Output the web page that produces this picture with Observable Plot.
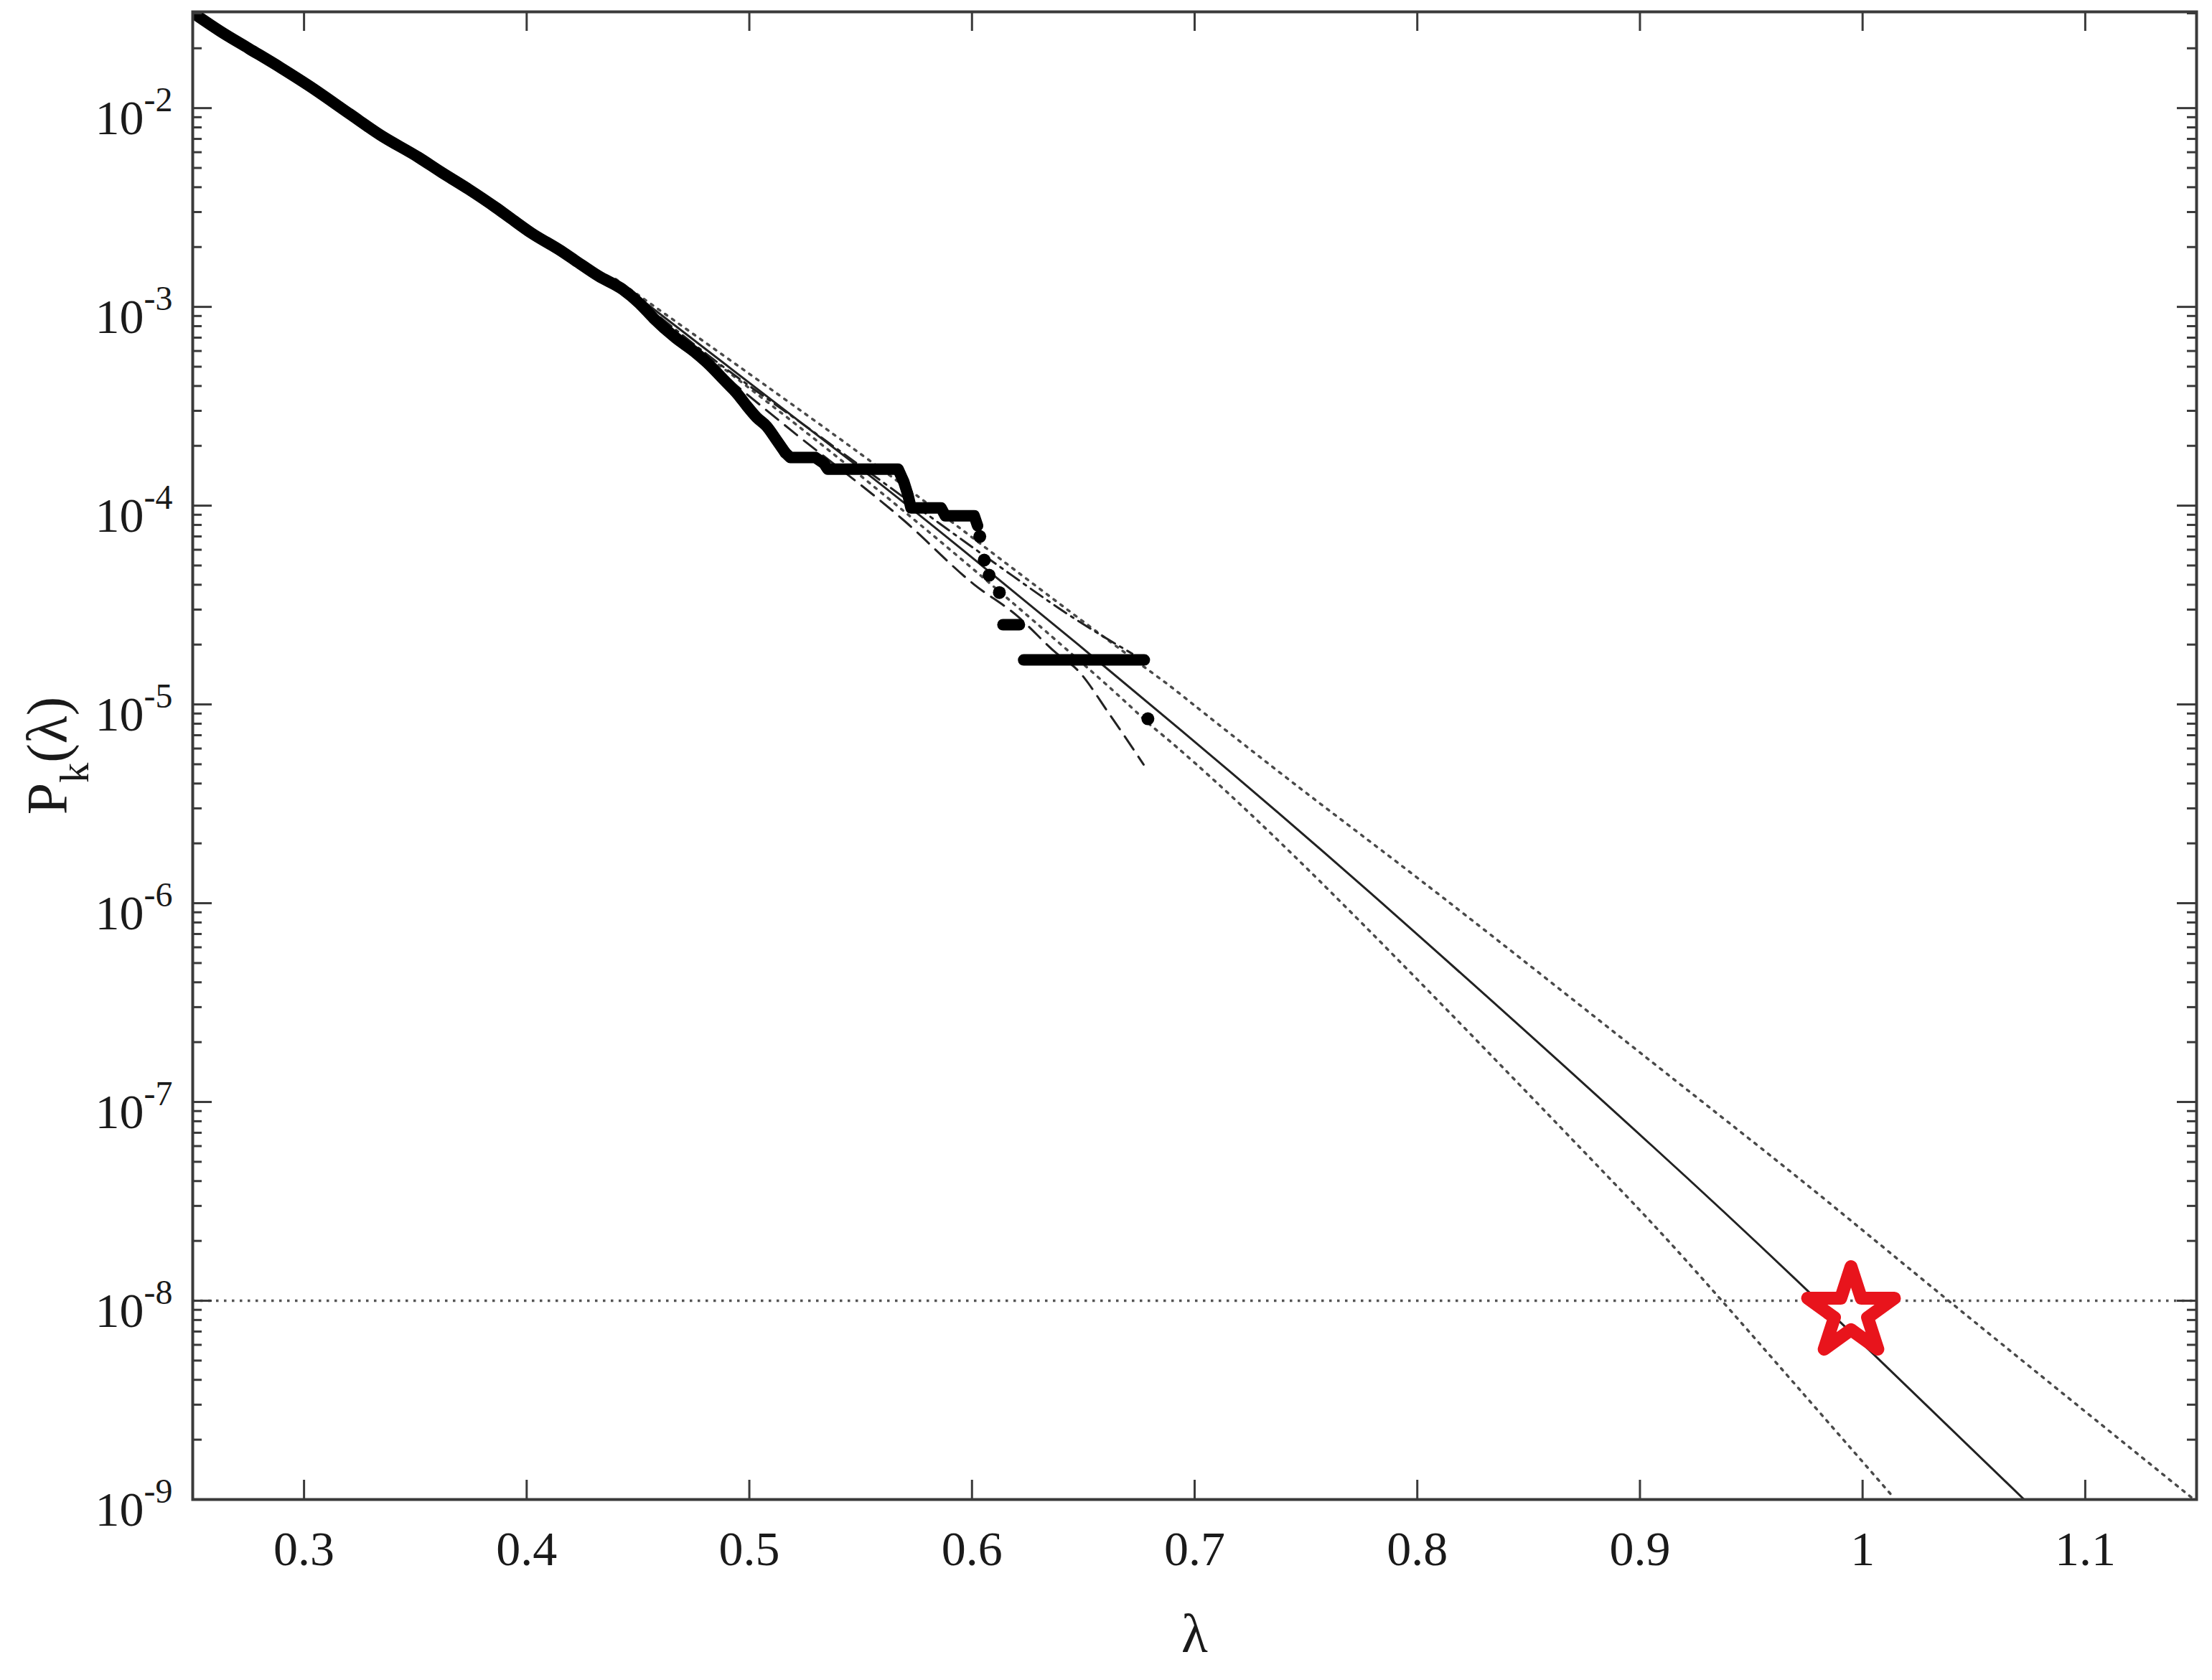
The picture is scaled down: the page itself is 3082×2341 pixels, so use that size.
<!DOCTYPE html>
<html>
<head>
<meta charset="utf-8">
<script src="https://cdn.jsdelivr.net/npm/d3@7"></script>
<script src="https://cdn.jsdelivr.net/npm/@observablehq/plot@0.6"></script>
<style>
  html, body { margin: 0; padding: 0; background: #ffffff; }
  #chart { width: 3082px; height: 2341px; }
</style>
</head>
<body>
<div id="chart"></div>
<script>
// ---------------- DATA (log10 of probability) ----------------
// Empirical exceedance probability: smooth upper part
const empSmoothX    = [0.250, 0.2626, 0.2752, 0.2897, 0.3023, 0.3206, 0.3342, 0.3516, 0.3613, 0.3739,
                       0.3861, 0.3923, 0.4023, 0.4145, 0.4216, 0.4323, 0.4432, 0.4506, 0.4571, 0.4668,
                       0.4755, 0.4819, 0.4884, 0.4948, 0.4990, 0.5032, 0.5077, 0.5119, 0.5161];
const empSmoothLogP = [-1.52, -1.615, -1.700, -1.798, -1.888, -2.030, -2.135, -2.249, -2.320, -2.408,
                       -2.500, -2.550, -2.630, -2.712, -2.765, -2.845, -2.913, -2.982, -3.058, -3.155,
                       -3.227, -3.290, -3.365, -3.440, -3.500, -3.555, -3.600, -3.665, -3.733];
// Empirical exceedance probability: stepped tail (segments separated where the picture has gaps)
const empStepX    = [0.5161, 0.5184, 0.5297, 0.5335, 0.5352, 0.5668, 0.5694, 0.5713, 0.5726, 0.5861,
                     0.5880, 0.6010, 0.6025,
                     0.6139, 0.6213,
                     0.6232, 0.6774];
const empStepLogP = [-3.733, -3.758, -3.758, -3.787, -3.816, -3.816, -3.881, -3.949, -4.011, -4.011,
                     -4.051, -4.051, -4.101,
                     -4.599, -4.599,
                     -4.776, -4.776];
const empStepSeg  = ["a", "a", "a", "a", "a", "a", "a", "a", "a", "a",
                     "a", "a", "a",
                     "b", "b",
                     "c", "c"];
// Isolated empirical points
const empDotX    = [0.6035, 0.6055, 0.6077, 0.6123, 0.6790];
const empDotLogP = [-4.155, -4.274, -4.350, -4.437, -5.072];

// Fitted model (solid)
const fitX    = [0.44, 0.5503, 0.6048, 0.6474, 0.6958, 0.7790, 0.9055, 0.9813, 1.0732];
const fitLogP = [-2.864, -3.816, -4.305, -4.696, -5.148, -5.949, -7.221, -8.014, -9.007];
// Upper confidence bound (dotted)
const upX    = [0.44, 0.55, 0.62, 0.6774, 0.6958, 0.7445, 0.8119, 0.9055, 0.9748, 1.0394, 1.1481];
const upLogP = [-2.86, -3.74, -4.33, -4.812, -4.968, -5.397, -5.975, -6.800, -7.415, -8.007, -8.993];
// Lower confidence bound (dotted)
const loX    = [0.44, 0.55, 0.6503, 0.6787, 0.6958, 0.7626, 0.8697, 0.9055, 0.9368, 1.0142];
const loLogP = [-2.90, -3.85, -4.80, -5.09, -5.252, -5.96, -7.19, -7.611, -8.00, -8.993];
// Alternative fit (dash-dot)
const altAX    = [0.44, 0.4839, 0.529, 0.5419, 0.559, 0.6097, 0.6474, 0.6720];
const altALogP = [-2.87, -3.264, -3.63, -3.735, -3.874, -4.285, -4.578, -4.745];
// Alternative fit (dashed)
const altBX    = [0.44, 0.518, 0.570, 0.601, 0.6197, 0.6381, 0.6474, 0.6616, 0.6771];
const altBLogP = [-2.89, -3.614, -4.08, -4.397, -4.549, -4.744, -4.827, -5.047, -5.303];

// Threshold and marked point
const thresholdP = [1e-8];
const starX = [0.9948];
const starLogP = [-8.058];

// Axes
const xTickValues = [0.3, 0.4, 0.5, 0.6, 0.7, 0.8, 0.9, 1.0, 1.1];
const xTickLabels = ["0.3", "0.4", "0.5", "0.6", "0.7", "0.8", "0.9", "1", "1.1"];
const yTickValues = [1e-9, 1e-8, 1e-7, 1e-6, 1e-5, 1e-4, 1e-3, 1e-2];
const yTickLabels = ["10^-9", "10^-8", "10^-7", "10^-6", "10^-5", "10^-4", "10^-3", "10^-2"];
const yMinorMantissas = [2, 3, 4, 5, 6, 7, 8, 9];
const xLabel = "λ";
const yLabel = "P_k(λ)";

// ---------------- BUILD ----------------
const W = 3082, H = 2341;
const mL = 268, mR = 22, mT = 16, mB = 252;
const fw = W - mL - mR, fh = H - mT - mB;
const yTop = 0.0305;

const rows = (xs, ls, extra) => xs.map((x, i) => ({x, p: Math.pow(10, ls[i]), seg: extra ? extra[i] : "s"}));
const empSmooth = rows(empSmoothX, empSmoothLogP);
const empStep = rows(empStepX, empStepLogP, empStepSeg);
const empDots = rows(empDotX, empDotLogP);
const fit = rows(fitX, fitLogP);
const up = rows(upX, upLogP);
const lo = rows(loX, loLogP);
const altA = rows(altAX, altALogP);
const altB = rows(altBX, altBLogP);
const star = rows(starX, starLogP);
const yMinor = yTickValues.flatMap(d => yMinorMantissas.map(m => m * d)).filter(v => v < yTop);

const axisColor = "#3a3a3a";
const textColor = "#1a1a1a";
const font = "'Liberation Serif', 'Times New Roman', serif";
const dataStroke = {stroke: "#000", strokeWidth: 16, strokeLinecap: "round", strokeLinejoin: "round", clip: true};

const plot = Plot.plot({
  width: W, height: H,
  marginLeft: mL, marginRight: mR, marginTop: mT, marginBottom: mB,
  x: {type: "linear", domain: [0.25, 1.15], axis: null},
  y: {type: "log", domain: [1e-9, yTop], axis: null},
  style: {fontFamily: font, background: "#ffffff", color: textColor, overflow: "visible"},
  marks: [
    // threshold line
    Plot.ruleY(thresholdP, {y: d => d, stroke: "#555", strokeWidth: 3.5, strokeDasharray: "3.5,7.5"}),
    // confidence bounds
    Plot.line(up, {x: "x", y: "p", stroke: "#4a4a4a", strokeWidth: 3.5, strokeDasharray: "3.5,8.5", curve: "natural", clip: true}),
    Plot.line(lo, {x: "x", y: "p", stroke: "#4a4a4a", strokeWidth: 3.5, strokeDasharray: "3.5,8.5", curve: "natural", clip: true}),
    // alternative fits
    Plot.line(altA, {x: "x", y: "p", stroke: "#222", strokeWidth: 3, strokeDasharray: "20,8,4,8", curve: "monotone-x", clip: true}),
    Plot.line(altB, {x: "x", y: "p", stroke: "#222", strokeWidth: 3, strokeDasharray: "22,12", curve: "monotone-x", clip: true}),
    // fitted model
    Plot.line(fit, {x: "x", y: "p", stroke: "#222", strokeWidth: 3, curve: "natural", clip: true}),
    // empirical data
    Plot.line(empSmooth, {x: "x", y: "p", curve: "monotone-x", ...dataStroke}),
    Plot.line(empStep, {x: "x", y: "p", z: "seg", ...dataStroke}),
    Plot.dot(empDots, {x: "x", y: "p", r: 9, fill: "#000", stroke: "none", clip: true}),
    // star marker
    Plot.dot(star, {x: "x", y: "p", symbol: "star", r: 38, fill: "none", stroke: "#e8141c", strokeWidth: 18, strokeLinejoin: "round"}),
    // frame and inward ticks (all four sides)
    Plot.frame({stroke: axisColor, strokeWidth: 4}),
    Plot.tickX(xTickValues, {x: d => d, insetTop: fh - 27, stroke: axisColor, strokeWidth: 3}),
    Plot.tickX(xTickValues, {x: d => d, insetBottom: fh - 27, stroke: axisColor, strokeWidth: 3}),
    Plot.tickY(yTickValues, {y: d => d, insetRight: fw - 27, stroke: axisColor, strokeWidth: 3}),
    Plot.tickY(yTickValues, {y: d => d, insetLeft: fw - 27, stroke: axisColor, strokeWidth: 3}),
    Plot.tickY(yMinor, {y: d => d, insetRight: fw - 13, stroke: axisColor, strokeWidth: 3}),
    Plot.tickY(yMinor, {y: d => d, insetLeft: fw - 13, stroke: axisColor, strokeWidth: 3}),
    // tick labels
    Plot.text(xTickValues, {x: d => d, frameAnchor: "bottom", text: (d, i) => xTickLabels[i], dy: 70, fontSize: 68, fill: textColor, textAnchor: "middle", lineAnchor: "middle"}),
    Plot.text(yTickValues, {y: d => d, frameAnchor: "left", text: (d, i) => yTickLabels[i], dx: -28, dy: 15, textAnchor: "end", fontSize: 68, fill: textColor, lineAnchor: "middle"}),
    // axis labels
    Plot.text([xLabel], {frameAnchor: "bottom", text: d => d, dy: 188, fontSize: 76, fill: textColor, textAnchor: "middle", lineAnchor: "middle"}),
    Plot.text([yLabel], {frameAnchor: "left", text: d => d, dx: -201, rotate: -90, fontSize: 80, fill: textColor, textAnchor: "middle", lineAnchor: "middle"})
  ]
});

// Superscripts / subscripts as real text
const NS = "http://www.w3.org/2000/svg";
plot.querySelectorAll("text").forEach(t => {
  const s = t.textContent;
  if (s.includes("^")) {
    const parts = s.split("^");
    t.textContent = parts[0];
    const ts = document.createElementNS(NS, "tspan");
    ts.setAttribute("dy", "-32");
    ts.setAttribute("font-size", "48");
    ts.textContent = parts[1];
    t.appendChild(ts);
  } else if (s.includes("_")) {
    const m = s.match(/^(.*?)_(.)(.*)$/);
    t.textContent = m[1];
    const sub = document.createElementNS(NS, "tspan");
    sub.setAttribute("dy", "30");
    sub.setAttribute("font-size", "56");
    sub.textContent = m[2];
    t.appendChild(sub);
    const rest = document.createElementNS(NS, "tspan");
    rest.setAttribute("dy", "-30");
    rest.setAttribute("font-size", "80");
    rest.textContent = m[3];
    t.appendChild(rest);
  }
});

document.getElementById("chart").appendChild(plot);
</script>
</body>
</html>
